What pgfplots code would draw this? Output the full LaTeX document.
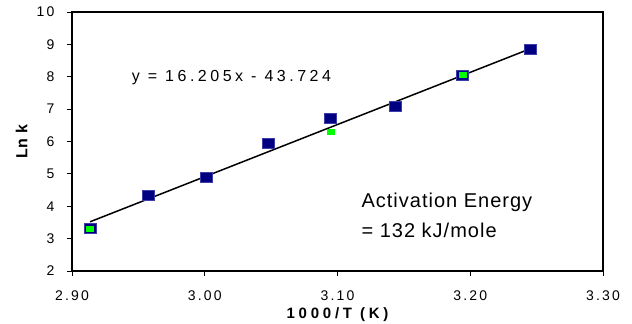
\documentclass[border=0pt]{standalone}
\usepackage{fontspec}
\setmainfont{Liberation Sans}
\newfontfamily\tickf[LetterSpace=16]{Liberation Sans}
\newfontfamily\eqf[LetterSpace=22]{Liberation Sans}
\newfontfamily\actf[LetterSpace=5]{Liberation Sans}
\newfontfamily\labf[LetterSpace=25]{Liberation Sans}
\newfontfamily\ylabf[LetterSpace=6]{Liberation Sans}
\usepackage{pgfplots}
\pgfplotsset{compat=1.18}
\definecolor{navyb}{RGB}{0,0,128}
\definecolor{navyedge}{RGB}{60,60,170}
\definecolor{brgreen}{RGB}{0,255,0}
\begin{document}
\begin{tikzpicture}
\begin{axis}[
  scale only axis,
  width=531bp, height=259bp,
  xmin=2.9, xmax=3.3, ymin=2, ymax=10,
  xtick={2.9,3.0,3.1,3.2,3.3},
  ytick={2,3,4,5,6,7,8,9,10},
  xtick pos=bottom, ytick pos=left,
  tick align=outside,
  major tick length=5bp,
  tick style={black, line width=0.8bp},
  axis line style={line width=1.6bp},
  /pgf/number format/assume math mode=true,
  tick label style={font=\tickf\fontsize{14bp}{16bp}\selectfont},
  xticklabel style={yshift=-11bp, /pgf/number format/.cd, fixed, fixed zerofill, precision=2},
  yticklabel style={xshift=-9bp, /pgf/number format/.cd, fixed, precision=0},
  every axis x label/.style={at={(axis description cs:0.5,0)}, anchor=center, yshift=-43.5bp},
  every axis y label/.style={at={(axis description cs:0,0.5)}, rotate=90, anchor=center, yshift=50.5bp},
  xlabel={\labf\bfseries\fontsize{15bp}{17bp}\selectfont 1000/T (K)},
  ylabel={\ylabf\bfseries\fontsize{16bp}{18bp}\selectfont Ln k},
  clip=false,
]
\addplot[only marks, mark=square*, mark size=5bp, mark options={xscale=1.2, fill=navyb, draw=navyedge, line width=0.6bp}]
 coordinates {(2.9136,3.32) (2.9578,4.34) (3.0015,4.88) (3.0479,5.95) (3.0946,6.72) (3.1436,7.08) (3.1943,8.05) (3.2455,8.85)};
\addplot[only marks, mark=square*, mark size=2.5bp, mark options={xscale=1.4, fill=brgreen, draw=brgreen}]
 coordinates {(2.9136,3.32) (3.0946,6.31) (3.1943,8.05)};
\addplot[black, line width=1.5bp] coordinates {(2.9136,3.52) (3.2455,8.87)};
\node[anchor=west, font=\eqf\fontsize{16bp}{18bp}\selectfont, inner sep=0pt] at (axis cs:2.945,7.98) {y = 16.205x - 43.724};
\node[anchor=west, font=\actf\fontsize{20bp}{22bp}\selectfont, inner sep=0pt] at (axis cs:3.118,4.11) {Activation Energy};
\node[anchor=west, font=\actf\fontsize{20bp}{22bp}\selectfont, inner sep=0pt] at (axis cs:3.118,3.27) {= 132 kJ/mole};
\end{axis}
\pgfresetboundingbox
\path (-72bp,-53bp) rectangle (560bp,271bp);
\end{tikzpicture}
\end{document}
